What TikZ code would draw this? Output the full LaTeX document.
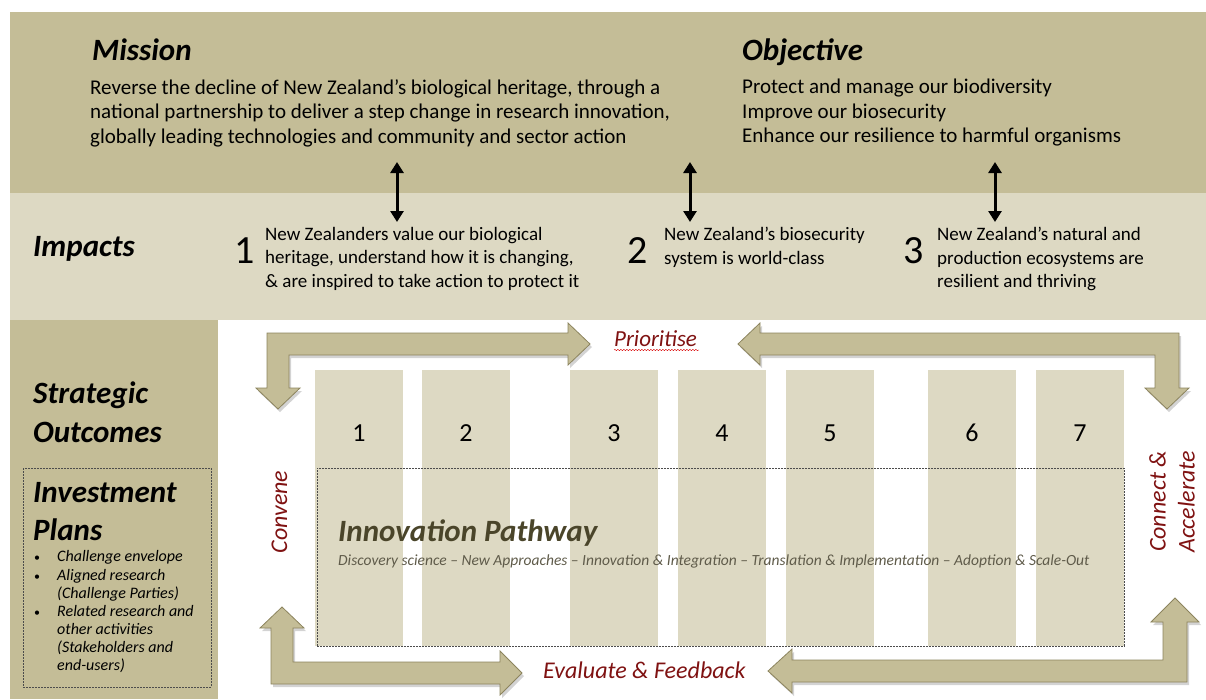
\documentclass[tikz,border=0pt]{standalone}
\usepackage{fontspec}
\setmainfont{Carlito}
\usetikzlibrary{arrows.meta,shadows,decorations.pathmorphing}

\definecolor{tandark}{HTML}{C4BD97}
\definecolor{tanlight}{HTML}{DDD9C3}
\definecolor{arrowline}{HTML}{8C845E}
\definecolor{darkred}{HTML}{7F1212}
\definecolor{pathtext}{HTML}{4A452A}
\definecolor{subtext}{HTML}{5F5B4A}

\tikzset{
  heading/.style={font=\fontsize{31}{36}\selectfont\bfseries\itshape, anchor=base west, inner sep=0pt},
  bodytext/.style={font=\fontsize{21}{24.5}\selectfont, anchor=north west, align=left, inner sep=0pt},
  impactnum/.style={font=\fontsize{40}{40}\selectfont, anchor=base west, inner sep=0pt},
  impacttext/.style={font=\fontsize{19}{23.5}\selectfont, anchor=north west, align=left, inner sep=0pt},
  colnum/.style={font=\fontsize{26}{26}\selectfont, inner sep=0pt},
  redlabel/.style={font=\fontsize{24}{29}\selectfont\itshape, text=darkred, inner sep=0pt},
  listtext/.style={font=\fontsize{16}{18}\selectfont\itshape, anchor=base west, inner sep=0pt},
  dblarrow/.style={line width=3pt, {Triangle[width=13pt,length=11pt]}-{Triangle[width=13pt,length=11pt]}},
  blockarrow/.style={fill=tandark, draw=arrowline, line width=0.8pt,
    drop shadow={opacity=0.35, shadow xshift=2pt, shadow yshift=-3pt}},
}

\begin{document}
\begin{tikzpicture}[x=1pt,y=-1pt]
\useasboundingbox (0,0) rectangle (1206,699);

% bands
\fill[tandark] (10,12) rectangle (1206,193);
\fill[tanlight] (10,193) rectangle (1206,320);
\fill[tandark] (10,320) rectangle (218,699);

% mission and objective
\node[heading] (mission) at (92,60) {Mission};
\node[bodytext] (missiontext) at (90,79) {Reverse the decline of New Zealand’s biological heritage, through a\\
national partnership to deliver a step change in research innovation,\\
globally leading technologies and community and sector action};
\node[heading] (objective) at (742,60) {Objective};
\node[bodytext] (objectivetext) at (742,79) {Protect and manage our biodiversity\\
Improve our biosecurity\\
Enhance our resilience to harmful organisms};

% impacts
\node[heading] (impacts) at (33,256) {Impacts};
\node[impactnum] (num1) at (234,263) {1};
\node[impacttext] (imp1) at (265,227) {New Zealanders value our biological\\
heritage, understand how it is changing,\\
\& are inspired to take action to protect it};
\node[impactnum] (num2) at (627,263) {2};
\node[impacttext] (imp2) at (664,227) {New Zealand’s biosecurity\\
system is world-class};
\node[impactnum] (num3) at (903,263) {3};
\node[impacttext] (imp3) at (937,227) {New Zealand’s natural and\\
production ecosystems are\\
resilient and thriving};

\foreach \x/\k in {397/1,690/2,995/3} {
  \coordinate (top\k) at (\x,162);
  \coordinate (bot\k) at (\x,222);
  \draw[dblarrow] (top\k) -- (bot\k);
}

% strategic outcomes and investment plans
\node[heading] (strategic) at (33,403) {Strategic};
\node[heading] (outcomes) at (33,442) {Outcomes};
\draw[dashed, dash pattern=on 2pt off 1pt, thin, black!70] (23,468) rectangle (211,687);
\node[heading] (investment) at (33,502) {Investment};
\node[heading] (plans) at (33,540) {Plans};
\foreach \y in {561,580,616}
  \node[listtext, font=\fontsize{12}{12}\selectfont] (bullet\y) at (34,\y) {\textbullet};
\foreach \y/\itemtext in {561/Challenge envelope, 580/Aligned research, 598/(Challenge Parties),
  616/Related research and, 634/other activities, 652/(Stakeholders and, 670/end-users)}
  \node[listtext] (item\y) at (57,\y) {\itemtext};

% research columns
\foreach \n/\x in {1/315,2/422,3/570,4/678,5/786,6/928,7/1036} {
  \fill[tanlight] (\x,370) rectangle ++(88,276);
  \node[colnum] (col\n) at (\x+44,433) {\n};
}

% innovation pathway
\node[draw=black!70, thin, dashed, dash pattern=on 2pt off 1pt, inner sep=0pt,
  minimum width=807pt, minimum height=178pt, anchor=north west] (pathway) at (317,468) {};
\node[font=\fontsize{31}{33}\selectfont\bfseries\itshape, text=pathtext, anchor=base west, inner sep=0pt]
  (pathtitle) at (338,541) {Innovation Pathway};
\node[font=\fontsize{15.5}{17}\selectfont\itshape, text=subtext, anchor=base west, inner sep=0pt]
  (pathsub) at (338,565) {Discovery science – New Approaches – Innovation \& Integration – Translation \& Implementation – Adoption \& Scale-Out};

% cycle arrows
\draw[blockarrow] (590,344) -- (568,323) -- (568,333) -- (267,333) -- (267,388) -- (256,388)
  -- (278,409) -- (300,388) -- (289,388) -- (289,355) -- (568,355) -- (568,365) -- cycle;
\draw[blockarrow] (738,344) -- (760,323) -- (760,333) -- (1179,333) -- (1179,388) -- (1189,388)
  -- (1167,409) -- (1145,388) -- (1155,388) -- (1155,355) -- (760,355) -- (760,365) -- cycle;
\draw[blockarrow] (282,607) -- (304,628) -- (293,628) -- (293,662) -- (500,662) -- (500,651)
  -- (522,673) -- (500,695) -- (500,684) -- (271,684) -- (271,628) -- (260,628) -- cycle;
\draw[blockarrow] (1175,598) -- (1199,622) -- (1187,622) -- (1187,682) -- (792,682) -- (792,693)
  -- (768,671) -- (792,649) -- (792,660) -- (1163,660) -- (1163,622) -- (1151,622) -- cycle;

% cycle labels
\node[redlabel, font=\fontsize{23}{27}\selectfont\itshape, anchor=base west] (prioritise) at (614,346) {Prioritise};
\draw[red!70!darkred, line width=0.4pt, decorate, decoration={snake, amplitude=0.7pt, segment length=3pt}]
  (prioritise.base west) ++(0,4) -- ++(85,0);
\node[redlabel, rotate=90, anchor=base] (convene) at (287,512) {Convene};
\node[redlabel, rotate=90, anchor=center, align=right] (connect) at (1172,502) {Connect \&\\Accelerate};
\node[redlabel, anchor=base west] (evaluate) at (543,678) {Evaluate \& Feedback};

\end{tikzpicture}
\end{document}
